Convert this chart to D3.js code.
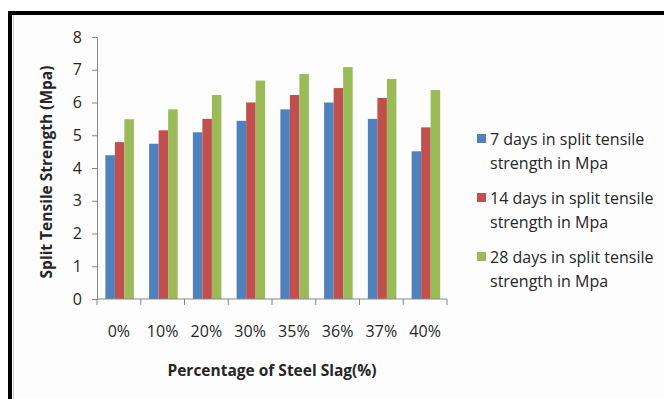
<!DOCTYPE html>
<html>
<head>
<meta charset="utf-8">
<script src="https://cdn.jsdelivr.net/npm/d3@7"></script>
<style>
    body { margin: 0; background: #ffffff; }
    svg text { font-family: "Open Sans", "Noto Sans", sans-serif; fill: #262626; }
</style>
</head>
<body>
<svg id="chart" width="664" height="399"></svg>
<script>
// categories and series
var categories = ["0%", "10%", "20%", "30%", "35%", "36%", "37%", "40%"];
var seriesNames = ["7 days in split tensile strength in Mpa",
                   "14 days in split tensile strength in Mpa",
                   "28 days in split tensile strength in Mpa"];
var days7  = [4.39, 4.74, 5.09, 5.44, 5.79, 6.00, 5.50, 4.51];
var days14 = [4.79, 5.15, 5.50, 6.00, 6.23, 6.44, 6.14, 5.24];
var days28 = [5.49, 5.79, 6.23, 6.67, 6.87, 7.08, 6.72, 6.38];
var yTicks = [0, 1, 2, 3, 4, 5, 6, 7, 8];
var colors = ["#4f81bd", "#c0504d", "#9bbb59"];

var series = [days7, days14, days28];

var svg = d3.select("#chart");

// frame: white page, black border on top and left, light fill inside
svg.append("rect").attr("x", 12).attr("y", 15).attr("width", 652).attr("height", 384)
    .style("fill", "#fdfdfd");
svg.append("line").attr("x1", 8).attr("x2", 664).attr("y1", 13).attr("y2", 13)
    .style("stroke", "#000").style("stroke-width", 4);
svg.append("line").attr("x1", 10).attr("x2", 10).attr("y1", 11).attr("y2", 399)
    .style("stroke", "#000").style("stroke-width", 4);
svg.append("line").attr("x1", 13.5).attr("x2", 13.5).attr("y1", 15).attr("y2", 399)
    .style("stroke", "#d0d0d0").style("stroke-width", 1);

var plotLeft = 97, plotRight = 447, plotTop = 37, plotBottom = 299;

var x = d3.scaleBand().domain(categories).range([plotLeft, plotRight]).paddingInner(0).paddingOuter(0);
var x1 = d3.scaleBand().domain([0, 1, 2]).range([0, x.bandwidth()])
    .paddingInner(0).paddingOuter(0.8).align(0.55);
var y = d3.scaleLinear().domain([0, 8]).range([plotBottom, plotTop]);

// bars
var groups = svg.append("g").selectAll("g")
    .data(categories)
    .enter().append("g")
    .attr("transform", function(d) { return "translate(" + x(d) + ",0)"; });

groups.selectAll("rect")
    .data(function(d, i) { return series.map(function(s, k) { return {k: k, v: s[i]}; }); })
    .enter().append("rect")
    .attr("x", function(d) { return x1(d.k); })
    .attr("width", x1.bandwidth())
    .attr("y", function(d) { return y(d.v); })
    .attr("height", function(d) { return plotBottom - y(d.v); })
    .style("fill", function(d) { return colors[d.k]; });

// y axis
var yAxis = svg.append("g")
    .attr("transform", "translate(" + plotLeft + ",0)")
    .call(d3.axisLeft(y).tickValues(yTicks).tickFormat(d3.format("d")).tickSize(5).tickPadding(10));
yAxis.select(".domain").style("stroke", "#888");
yAxis.selectAll(".tick line").style("stroke", "#888");
yAxis.selectAll("text").style("font-size", "16px").style("fill", "#262626");

// x axis, ticks on category boundaries
var xAxis = svg.append("g").attr("transform", "translate(0," + plotBottom + ")");
xAxis.append("line").attr("x1", plotLeft).attr("x2", plotRight).attr("y1", 0).attr("y2", 0)
    .style("stroke", "#888");
xAxis.selectAll(".xt")
    .data(categories.concat(["end"]))
    .enter().append("line")
    .attr("class", "xt")
    .attr("x1", function(d, i) { return plotLeft + i * x.step(); })
    .attr("x2", function(d, i) { return plotLeft + i * x.step(); })
    .attr("y1", 0).attr("y2", 6)
    .style("stroke", "#888");
xAxis.selectAll("text")
    .data(categories)
    .enter().append("text")
    .attr("x", function(d) { return x(d) + x.bandwidth() / 2; })
    .attr("y", 38)
    .attr("text-anchor", "middle")
    .style("font-size", "16px")
    .text(function(d) { return d; });

// axis titles
svg.append("text")
    .attr("x", (plotLeft + plotRight) / 2)
    .attr("y", 376)
    .attr("text-anchor", "middle")
    .style("font-size", "15.5px")
    .style("font-weight", "bold")
    .text("Percentage of Steel Slag(%)");

svg.append("text")
    .attr("transform", "translate(52," + ((plotTop + plotBottom) / 2 + 4) + ") rotate(-90)")
    .attr("text-anchor", "middle")
    .style("font-size", "15.5px")
    .style("font-weight", "bold")
    .text("Split Tensile Strength (Mpa)");

// legend
var legend = svg.append("g").selectAll("g")
    .data(seriesNames)
    .enter().append("g")
    .attr("transform", function(d, i) { return "translate(477," + (139 + i * 59) + ")"; });

legend.append("rect")
    .attr("x", 0).attr("y", -5).attr("width", 9).attr("height", 9)
    .style("fill", function(d, i) { return colors[i]; });

legend.append("text")
    .attr("x", 13)
    .attr("y", 0)
    .style("font-size", "16px")
    .each(function(d) {
        var words = d.split(" ");
        var t = d3.select(this);
        t.append("tspan").attr("x", 13).attr("dy", "0.35em").text(words.slice(0, 5).join(" "));
        t.append("tspan").attr("x", 13).attr("dy", "24px").text(words.slice(5).join(" "));
    });
</script>
</body>
</html>
